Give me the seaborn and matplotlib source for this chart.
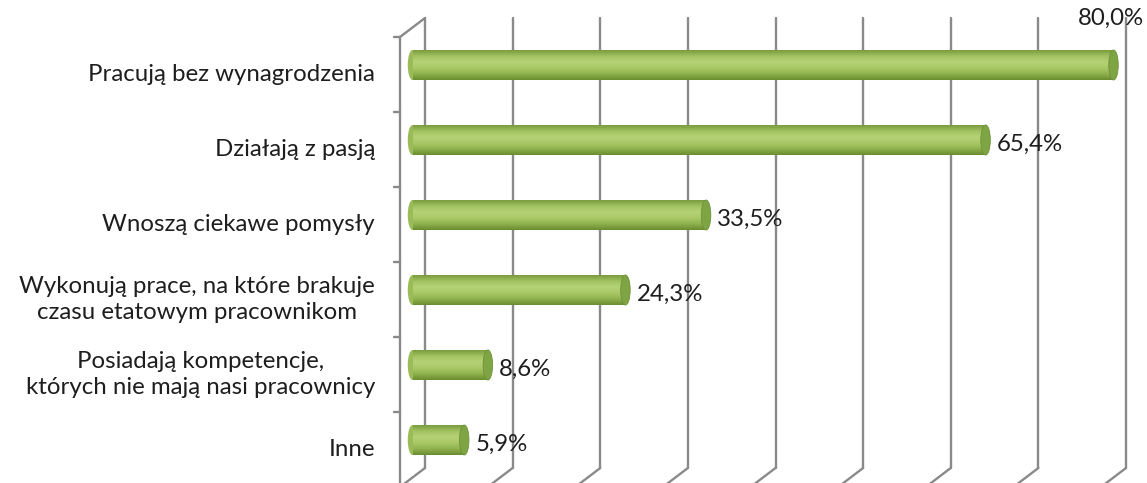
import numpy as np
import pandas as pd
import seaborn as sns
import matplotlib.pyplot as plt
from matplotlib.patches import Ellipse
from matplotlib.transforms import ScaledTranslation
from matplotlib.colors import LinearSegmentedColormap

categories = [
    "Pracują bez wynagrodzenia",
    "Działają z pasją",
    "Wnoszą ciekawe pomysły",
    "Wykonują prace, na które brakuje\nczasu etatowym pracownikom",
    "Posiadają kompetencje,\nktórych nie mają nasi pracownicy",
    "Inne",
]
values = [80.0, 65.4, 33.5, 24.3, 8.6, 5.9]
value_labels = ["80,0%", "65,4%", "33,5%", "24,3%", "8,6%", "5,9%"]
grid_ticks = [0, 10, 20, 30, 40, 50, 60, 70, 80]

df = pd.DataFrame({"cat": categories, "val": values})

sns.set_style("white")
plt.rcParams["font.family"] = ["Lato", "DejaVu Sans"]
font_size = 17.3
text_color = "#1e1e1e"
grid_color = "#8a8a8a"

W, H, DPI = 1147, 483, 100
fig = plt.figure(figsize=(W / DPI, H / DPI), dpi=DPI)
# axes in the middle depth plane of the 3d box
ax = fig.add_axes([412.5 / W, 5.5 / H, 701 / W, 450 / H])

sns.barplot(data=df, x="val", y="cat", orient="h", width=0.4,
            color="#9bbb59", ax=ax, zorder=3)
ax.set_xlim(0, 80)
ax.set_ylim(len(categories) - 0.5, -0.5)
ax.set_axis_off()

# depth offset (pixels) between middle plane and front/back plane
dx, dy = 12.5 / DPI, 9.5 / DPI
back = ax.transData + ScaledTranslation(dx, dy, fig.dpi_scale_trans)
front = ax.transData + ScaledTranslation(-dx, -dy, fig.dpi_scale_trans)

y_top, y_bot = -0.5, len(categories) - 0.5
lw = 1.7
# back wall gridlines
for v in grid_ticks:
    ax.plot([v, v], [y_top, y_bot], color=grid_color, lw=lw, transform=back,
            clip_on=False, zorder=1)
    # floor lines from the back wall to the front
    p0 = back.transform((v, y_bot))
    p1 = front.transform((v, y_bot))
    ax.plot([p0[0], p1[0]], [p0[1], p1[1]], color=grid_color, lw=lw,
            transform=None, clip_on=False, zorder=1)

# left wall: front axis line, ticks and top edge
ax.plot([0, 0], [y_top, y_bot], color=grid_color, lw=lw, transform=front,
        clip_on=False, zorder=1)
p0 = back.transform((0, y_top))
p1 = front.transform((0, y_top))
ax.plot([p0[0], p1[0]], [p0[1], p1[1]], color=grid_color, lw=lw,
        transform=None, clip_on=False, zorder=1)
tick_tr = front + ScaledTranslation(-6.5 / DPI, 0, fig.dpi_scale_trans)
for b in np.arange(y_top, y_bot + 0.01, 1.0):
    p0 = front.transform((0, b))
    p1 = tick_tr.transform((0, b))
    ax.plot([p0[0], p1[0]], [p0[1], p1[1]], color=grid_color, lw=lw,
            transform=None, clip_on=False, zorder=1)

# cylinder look: gradient fill, rounded left end and darker end cap
body_cmap = LinearSegmentedColormap.from_list(
    "cyl", ["#7a9c3e", "#a3c362", "#b6d277", "#a9c866", "#8fb24e", "#6a8c31"])
grad = np.linspace(0, 1, 64).reshape(-1, 1)
cap_w = 9.5 / (701 / 80)  # cap width in data units
for patch, v in zip(ax.patches, values):
    y0 = patch.get_y()
    h = patch.get_height()
    yc = y0 + h / 2
    patch.set_edgecolor("none")
    left = Ellipse((0, yc), cap_w, h, facecolor="#9bbb59", edgecolor="none",
                   zorder=2.9, clip_on=False)
    ax.add_patch(left)
    for clip in (patch, left):
        im = ax.imshow(grad, cmap=body_cmap, aspect="auto",
                       extent=(-cap_w, v, y0 + h, y0), zorder=3.1,
                       interpolation="bicubic")
        im.set_clip_box(None)
        im.set_clip_path(clip)
    ax.add_patch(Ellipse((v, yc), cap_w, h, facecolor="#7fa443",
                         edgecolor="#6e9238", lw=0.6, zorder=3.5,
                         clip_on=False))

ax.set_xlim(0, 80)
ax.set_ylim(len(categories) - 0.5, -0.5)

# category labels on the front plane
lab_tr = front + ScaledTranslation(-25 / DPI, 0, fig.dpi_scale_trans)
for i, c in enumerate(categories):
    ax.text(0, i, c, transform=lab_tr, ha="right", va="center",
            multialignment="center", linespacing=1.3,
            fontsize=font_size, color=text_color)

# data labels
for i, (v, s) in enumerate(zip(values, value_labels)):
    if v == max(values):
        ax.annotate(s, (v, i), xytext=(-3, 47), textcoords="offset pixels",
                    ha="center", va="center", fontsize=font_size,
                    color=text_color, annotation_clip=False)
    else:
        ax.annotate(s, (v, i), xytext=(11, -4), textcoords="offset pixels",
                    ha="left", va="center", fontsize=font_size,
                    color=text_color, annotation_clip=False, zorder=5)

fig.savefig("out.png", dpi=DPI)
plt.close(fig)
